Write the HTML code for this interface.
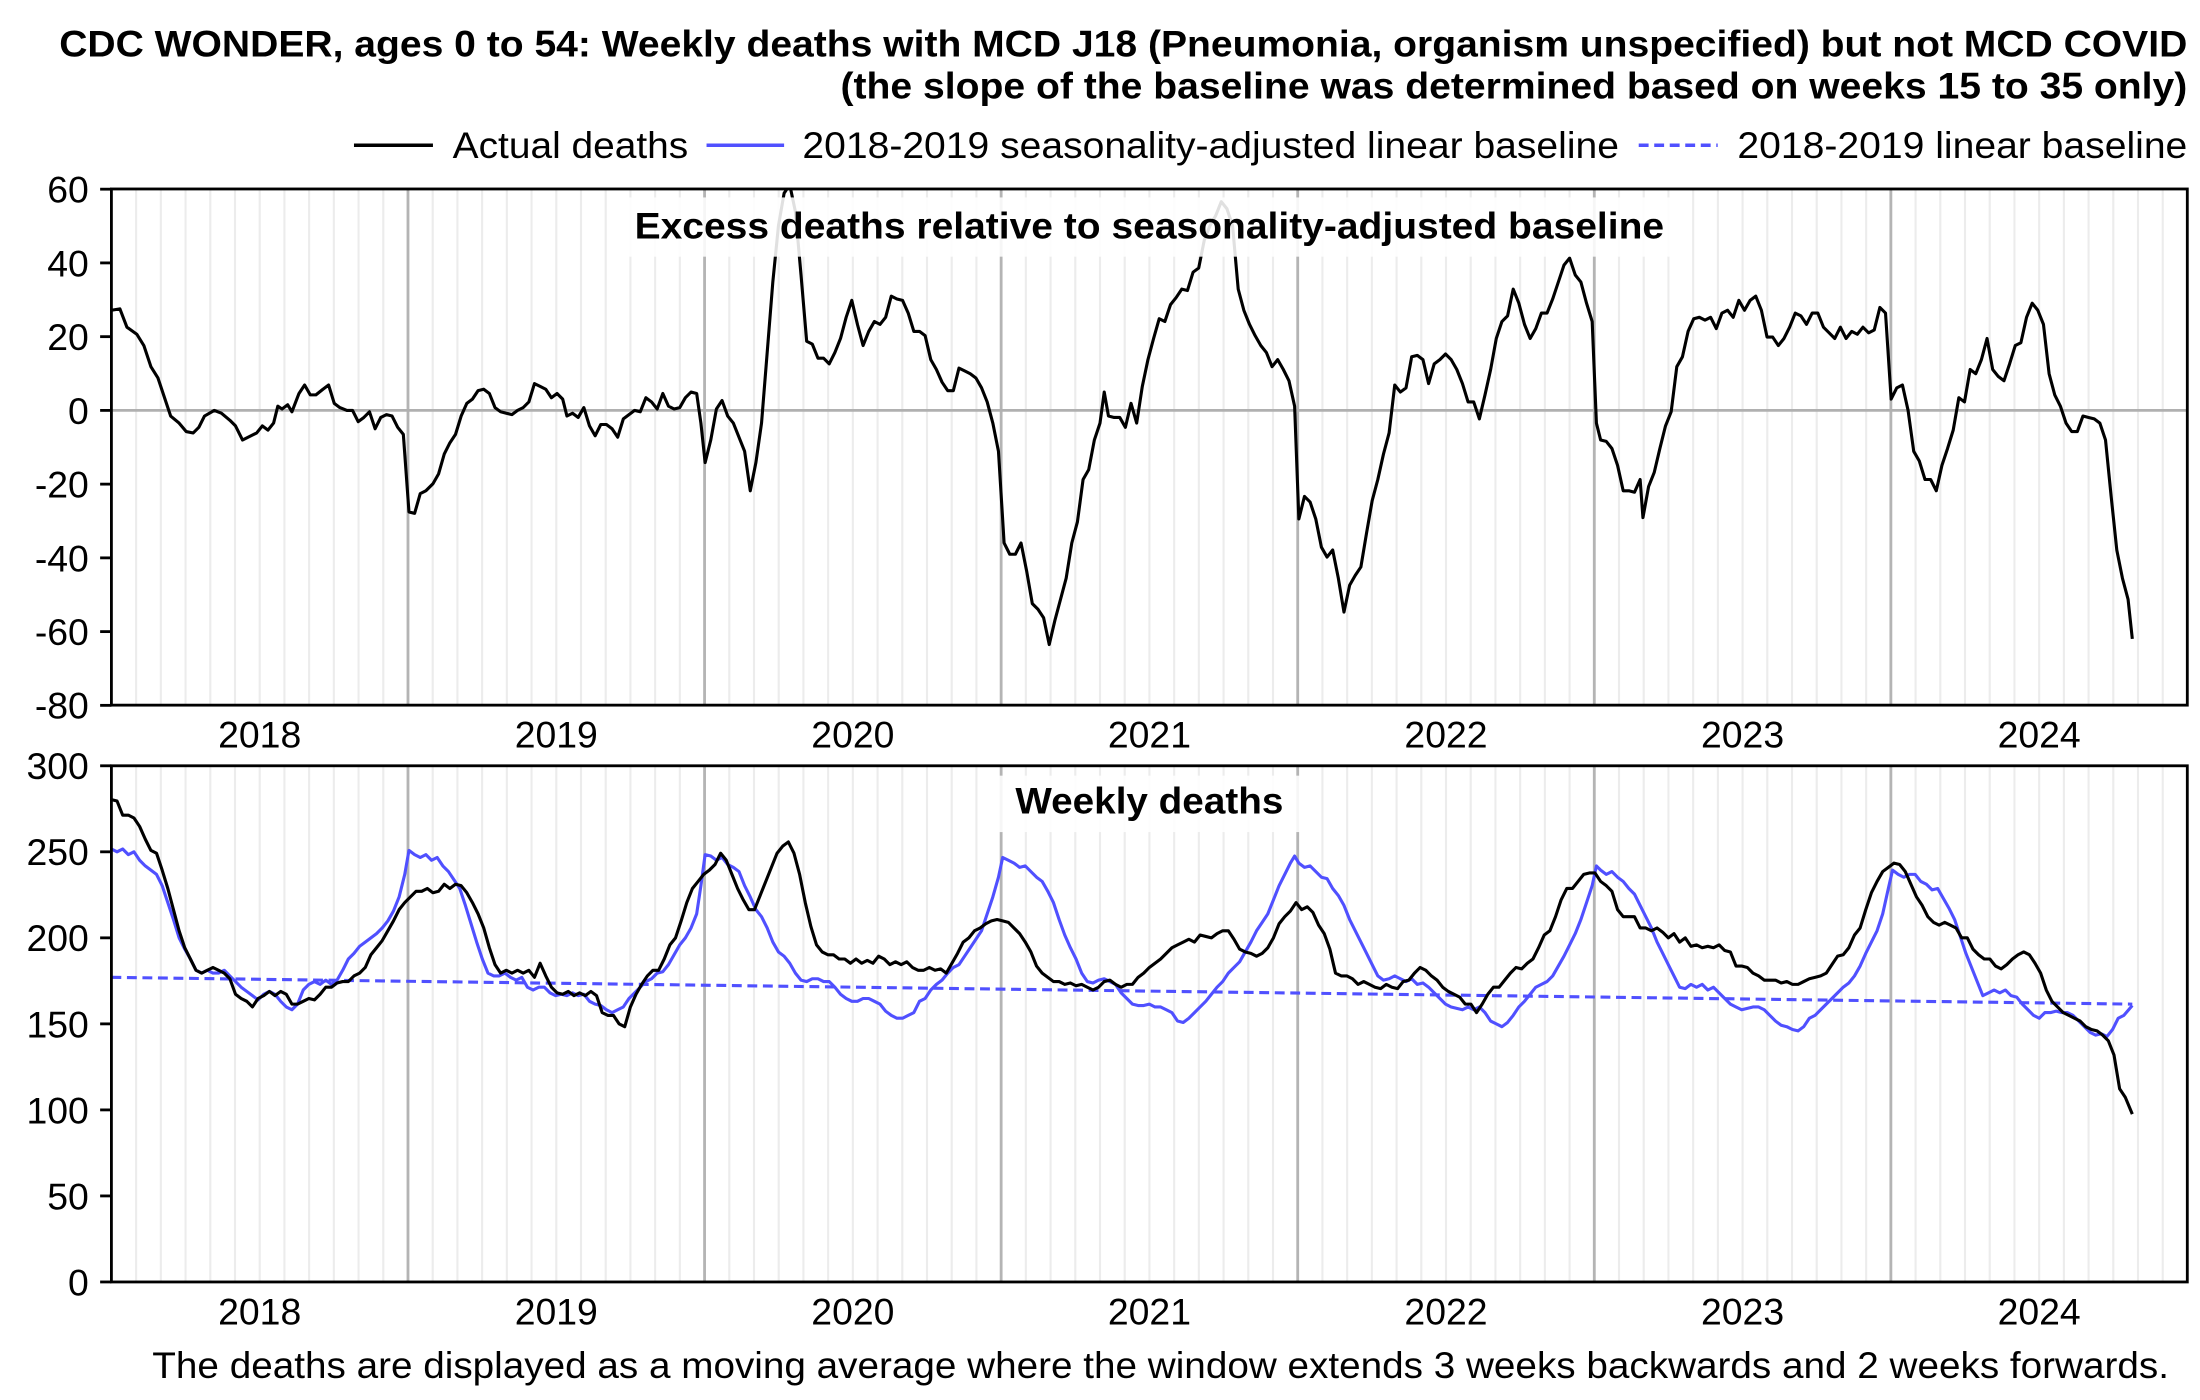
<!DOCTYPE html>
<html><head><meta charset="utf-8"><style>
html,body{margin:0;padding:0;background:#fff}
svg{display:block}
text{font-family:"Liberation Sans",Arial,sans-serif;fill:#000}
</style></head><body>
<svg width="2200" height="1400" viewBox="0 0 1560 992.7" preserveAspectRatio="none" xmlns="http://www.w3.org/2000/svg">
<defs>
<clipPath id="c1"><rect x="79" y="134" width="1472" height="366"/></clipPath>
<clipPath id="c2"><rect x="79" y="543" width="1472" height="366"/></clipPath>
</defs>
<rect width="1560" height="993" fill="#fff"/>
<text x="1551" y="40" font-size="26.5" font-weight="bold" text-anchor="end" textLength="1509" lengthAdjust="spacingAndGlyphs">CDC WONDER, ages 0 to 54: Weekly deaths with MCD J18 (Pneumonia, organism unspecified) but not MCD COVID</text>
<text x="1551" y="70" font-size="26.5" font-weight="bold" text-anchor="end" textLength="955" lengthAdjust="spacingAndGlyphs">(the slope of the baseline was determined based on weeks 15 to 35 only)</text>
<g font-size="26.5">
<line x1="251" y1="103" x2="307" y2="103" stroke="#000" stroke-width="2.5"/>
<text x="321" y="112" textLength="167" lengthAdjust="spacingAndGlyphs">Actual deaths</text>
<line x1="501" y1="103" x2="556" y2="103" stroke="#5050ff" stroke-width="2.5"/>
<text x="569" y="112" textLength="579" lengthAdjust="spacingAndGlyphs">2018-2019 seasonality-adjusted linear baseline</text>
<line x1="1162" y1="103" x2="1218" y2="103" stroke="#5050ff" stroke-width="2.5" stroke-dasharray="7,4"/>
<text x="1232" y="112" textLength="319" lengthAdjust="spacingAndGlyphs">2018-2019 linear baseline</text>
</g>
<g id="grid1"></g>
<g id="grid2"></g>
<line x1="79" y1="291" x2="1551" y2="291" stroke="#b0b0b0" stroke-width="2"/>
<g clip-path="url(#c1)">
<polyline fill="none" stroke="#000" stroke-width="2.2" stroke-linejoin="round" points="79,220 85,219 90,232 97,237 102,245 107,260 112,268 117,283 121,295 127,300 132,306 137,307 141,303 145,295 152,291 157,293 163,298 167,302 172,312 178,309 182,307 186,302 190,305 194,300 197,288 200,290 204,287 207,292 212,279 216,273 220,280 224,280 229,276 233,273 237,286 241,289 246,291 250,291 254,299 258,296 262,292 266,304 270,296 274,294 278,295 282,303 286,308 290,363 294,364 298,350 302,348 307,343 311,336 315,322 319,314 323,308 327,295 331,286 335,283 339,277 343,276 347,279 351,289 355,292 359,293 363,294 367,291 371,289 375,285 379,272 383,274 387,276 391,282 395,279 399,283 402,295 406,293 410,296 414,289 418,302 422,309 426,301 430,301 434,304 438,310 442,297 446,294 450,291 454,292 458,282 462,285 466,290 470,279 474,288 478,290 482,289 486,282 490,278 494,279 497,300 500,328 504,312 508,290 512,284 516,295 520,300 524,310 528,320 532,348 536,328 540,300 544,250 548,200 552,160 556,137 560,131 564,150 568,195 572,242 576,244 580,254 584,254 588,258 592,250 596,240 600,225 604,213 608,230 612,245 616,235 620,228 624,230 628,225 632,210 636,212 640,213 644,222 648,235 652,235 656,238 660,255 664,262 668,271 672,277 676,277 680,261 684,263 688,265 692,268 696,275 700,285 704,300 708,320 712,385 716,393 720,393 724,385 728,405 732,428 736,432 740,438 744,457 748,440 752,425 756,410 760,385 764,370 768,340 772,333 776,312 780,300 783,278 786,295 790,296 794,296 798,303 802,286 806,300 810,274 814,255 818,240 822,226 826,228 830,216 834,211 838,205 842,206 846,193 850,190 854,170 858,160 862,153 866,143 870,148 874,160 878,205 882,220 886,230 890,238 894,245 898,250 902,260 906,255 910,262 914,270 918,288 921,368 925,352 929,356 933,368 937,388 941,395 945,390 949,410 953,434 957,415 961,408 965,402 969,378 973,355 977,340 981,322 985,307 989,273 993,278 997,275 1001,253 1005,252 1009,255 1013,272 1017,258 1021,255 1025,251 1029,255 1033,262 1037,272 1041,285 1045,285 1049,297 1053,280 1057,262 1061,240 1065,228 1069,224 1073,205 1077,215 1081,230 1085,240 1089,233 1093,222 1097,222 1101,212 1105,200 1109,188 1113,183 1117,195 1121,200 1125,215 1129,228 1132,300 1135,312 1139,313 1143,318 1147,330 1151,348 1155,348 1159,349 1163,340 1165,367 1169,345 1173,335 1177,318 1181,302 1185,292 1189,260 1193,253 1197,235 1201,226 1205,225 1209,227 1213,225 1217,233 1221,222 1225,220 1229,225 1233,213 1237,220 1241,213 1245,210 1249,220 1253,239 1257,239 1261,245 1265,240 1269,232 1273,222 1277,224 1281,230 1285,222 1289,222 1293,232 1297,236 1301,240 1305,232 1309,240 1313,235 1317,237 1321,232 1325,236 1329,234 1333,218 1337,222 1341,283 1345,275 1349,273 1353,291 1357,320 1361,327 1365,340 1369,340 1373,348 1377,330 1381,318 1385,305 1389,282 1393,285 1397,262 1401,265 1405,255 1409,240 1413,262 1417,267 1421,270 1425,258 1429,245 1433,243 1437,225 1441,215 1445,220 1449,230 1453,265 1457,280 1461,288 1465,300 1469,306 1473,306 1477,295 1481,296 1485,297 1489,300 1493,312 1497,352 1501,390 1505,410 1509,425 1512,453"/>
</g>
<rect x="440" y="140" width="750" height="42" fill="#fff" fill-opacity="0.88"/>
<text x="815" y="169" font-size="26" font-weight="bold" text-anchor="middle" textLength="730" lengthAdjust="spacingAndGlyphs">Excess deaths relative to seasonality-adjusted baseline</text>
<g clip-path="url(#c2)">
<polyline fill="none" stroke="#5050ff" stroke-width="2.2" stroke-dasharray="7,4" points="79,693 1512,712"/>
<polyline fill="none" stroke="#5050ff" stroke-width="2.2" stroke-linejoin="round" points="79,602 83,604 87,602 91,606 95,604 99,610 103,614 107,617 111,620 115,628 119,640 123,652 127,665 131,673 135,680 139,688 143,690 147,688 151,690 155,690 159,688 163,692 167,696 171,700 175,703 179,706 183,709 187,705 191,703 195,705 199,710 203,714 207,716 211,712 215,702 219,698 223,696 227,698 231,695 235,698 239,695 243,688 247,680 251,676 255,671 259,668 263,665 267,662 271,658 275,653 279,646 283,636 287,620 290,603 294,606 298,608 302,606 306,610 310,608 314,614 318,618 322,624 326,630 330,642 334,655 338,668 342,680 346,690 350,692 354,692 358,690 362,693 366,695 370,693 374,700 378,702 382,700 386,700 390,704 394,706 398,705 402,706 406,704 410,706 414,705 418,710 422,712 426,713 430,716 434,718 438,716 442,714 446,708 450,704 454,700 458,696 462,694 466,690 470,689 474,684 478,677 482,670 486,665 490,658 494,648 497,628 500,606 504,607 508,610 512,608 516,613 520,615 524,618 528,628 532,636 536,645 540,650 544,658 548,668 552,675 556,678 560,683 564,690 568,695 572,696 576,694 580,694 584,696 588,696 592,700 596,705 600,708 604,710 608,710 612,708 616,708 620,710 624,712 628,717 632,720 636,722 640,722 644,720 648,718 652,710 656,708 660,702 664,698 668,695 672,690 676,686 680,684 684,678 688,672 692,666 696,660 700,648 704,636 708,622 711,608 715,610 719,612 723,615 727,614 731,618 735,622 739,625 743,632 747,640 751,652 755,663 759,672 763,680 767,690 771,696 775,697 779,695 783,694 787,696 791,698 795,704 799,708 803,712 807,713 811,713 815,712 819,714 823,714 827,716 831,718 835,724 839,725 843,722 847,718 851,714 855,710 859,705 863,700 867,696 871,690 875,686 879,682 883,675 887,668 891,660 895,654 899,648 903,638 907,628 911,620 915,612 918,607 921,612 925,615 929,614 933,618 937,622 941,623 945,630 949,635 953,642 957,652 961,660 965,668 969,676 973,684 977,692 981,695 985,694 989,692 993,694 997,696 1001,694 1005,698 1009,697 1013,700 1017,704 1021,708 1025,712 1029,714 1033,715 1037,716 1041,714 1045,716 1049,714 1053,718 1057,724 1061,726 1065,728 1069,725 1073,720 1077,714 1081,710 1085,705 1089,700 1093,698 1097,696 1101,692 1105,685 1109,678 1113,670 1117,662 1121,652 1125,640 1129,628 1132,614 1135,617 1139,620 1143,618 1147,622 1151,625 1155,630 1159,634 1163,642 1167,650 1171,658 1175,668 1179,676 1183,684 1187,692 1191,700 1195,701 1199,698 1203,700 1207,698 1211,702 1215,700 1219,704 1223,708 1227,712 1231,714 1235,716 1239,715 1243,714 1247,714 1251,716 1255,720 1259,724 1263,727 1267,728 1271,730 1275,731 1279,728 1283,722 1287,720 1291,716 1295,712 1299,708 1303,704 1307,700 1311,697 1315,692 1319,685 1323,676 1327,668 1331,660 1335,648 1339,630 1342,617 1346,620 1350,622 1354,620 1358,620 1362,625 1366,627 1370,631 1374,630 1378,637 1382,644 1386,652 1390,664 1394,676 1398,686 1402,696 1406,706 1410,704 1414,702 1418,704 1422,702 1426,706 1430,707 1434,712 1438,716 1442,720 1446,722 1450,718 1454,718 1458,717 1462,718 1466,718 1470,720 1474,724 1478,728 1482,732 1486,734 1490,733 1494,735 1498,730 1502,722 1506,720 1512,713"/>
<polyline fill="none" stroke="#000" stroke-width="2.2" stroke-linejoin="round" points="79,567 83,568 87,578 91,578 95,580 99,586 103,595 107,603 111,605 115,617 119,630 123,645 127,660 131,672 135,680 139,688 143,690 147,688 151,686 155,688 159,690 163,694 167,705 171,708 175,710 179,714 183,708 187,706 191,703 195,706 199,703 203,705 207,712 211,712 215,710 219,708 223,709 227,705 231,700 235,700 239,697 243,696 247,696 251,692 255,690 259,686 263,677 267,672 271,667 275,660 279,653 283,645 287,640 291,636 295,632 299,632 303,630 307,633 311,632 315,627 319,630 323,627 327,628 331,633 335,640 339,648 343,658 347,672 351,684 355,690 359,688 363,690 367,688 371,690 375,688 379,693 383,683 387,692 391,700 395,704 399,705 403,703 407,706 411,704 415,706 419,703 423,706 427,718 431,720 435,720 439,726 443,728 447,714 451,705 455,698 459,692 463,688 467,688 471,680 475,670 479,665 483,653 487,640 491,630 495,625 499,620 503,617 507,613 511,605 515,610 519,620 523,630 527,638 531,645 535,645 539,635 543,625 547,615 551,605 555,600 559,597 563,605 567,620 571,640 575,657 579,670 583,675 587,677 591,677 595,680 599,680 603,683 607,680 611,683 615,681 619,683 623,678 627,680 631,684 635,682 639,684 643,682 647,686 651,688 655,688 659,686 663,688 667,687 671,690 675,683 679,676 683,668 687,665 691,660 695,658 699,655 703,653 707,652 711,653 715,654 719,658 723,662 727,668 731,675 735,685 739,690 743,693 747,696 751,696 755,698 759,697 763,699 767,698 771,700 775,702 779,700 783,696 787,695 791,698 795,700 799,698 803,698 807,693 811,690 815,686 819,683 823,680 827,676 831,672 835,670 839,668 843,666 847,668 851,663 855,664 859,665 863,662 867,660 871,660 875,666 879,673 883,675 887,676 891,678 895,676 899,672 903,665 907,655 911,650 915,646 919,640 923,645 927,643 931,647 935,656 939,662 943,673 947,690 951,692 955,692 959,694 963,698 967,696 971,698 975,700 979,701 983,698 987,700 991,701 995,696 999,695 1003,690 1007,686 1011,688 1015,692 1019,695 1023,700 1027,703 1031,705 1035,707 1039,712 1043,712 1047,718 1051,712 1055,705 1059,700 1063,700 1067,695 1071,690 1075,686 1079,687 1083,683 1087,680 1091,672 1095,663 1099,660 1103,650 1107,638 1111,630 1115,630 1119,625 1123,620 1127,619 1131,619 1135,625 1139,628 1143,632 1147,645 1151,650 1155,650 1159,650 1163,658 1167,658 1171,660 1175,658 1179,661 1183,665 1187,662 1191,668 1195,665 1199,671 1203,670 1207,672 1211,671 1215,672 1219,670 1223,674 1227,675 1231,685 1235,685 1239,686 1243,690 1247,692 1251,695 1255,695 1259,695 1263,697 1267,696 1271,698 1275,698 1279,696 1283,694 1287,693 1291,692 1295,690 1299,684 1303,678 1307,677 1311,672 1315,663 1319,658 1323,645 1327,633 1331,625 1335,618 1339,615 1343,612 1347,613 1351,618 1355,627 1359,636 1363,642 1367,650 1371,654 1375,656 1379,654 1383,656 1387,658 1391,665 1395,665 1399,673 1403,677 1407,680 1411,680 1415,685 1419,687 1423,684 1427,680 1431,677 1435,675 1439,677 1443,683 1447,690 1451,702 1455,710 1459,714 1463,718 1467,720 1471,722 1475,724 1479,728 1483,730 1487,731 1491,734 1495,738 1499,748 1503,772 1507,778 1512,790"/>
</g>
<rect x="705" y="550" width="220" height="40" fill="#fff" fill-opacity="0.88"/>
<text x="815" y="577" font-size="26" font-weight="bold" text-anchor="middle" textLength="190" lengthAdjust="spacingAndGlyphs">Weekly deaths</text>
<rect x="79" y="134" width="1472" height="366" fill="none" stroke="#000" stroke-width="2"/>
<rect x="79" y="543" width="1472" height="366" fill="none" stroke="#000" stroke-width="2"/>
<g id="ticks" font-size="26.5"></g>
<text x="1538" y="977" font-size="26.5" text-anchor="end" textLength="1430" lengthAdjust="spacingAndGlyphs">The deaths are displayed as a moving average where the window extends 3 weeks backwards and 2 weeks forwards.</text>
<script>
(function(){
var ns="http://www.w3.org/2000/svg";
function el(p,t,a,txt){var e=document.createElementNS(ns,t);for(var k in a)e.setAttribute(k,a[k]);if(txt!==undefined)e.textContent=txt;p.appendChild(e);return e;}
var g1=document.getElementById("grid1"),g2=document.getElementById("grid2"),tk=document.getElementById("ticks");
var x0=79,yr=210.3;
for(var i=1;i<84;i++){var x=x0+i*yr/12;var major=(i%12===0);
 [[g1,134,500],[g2,543,909]].forEach(function(p){el(p[0],"line",{x1:x,x2:x,y1:p[1],y2:p[2],stroke:major?"#b4b4b4":"#ececec","stroke-width":major?2:1.5});});}
for(var y=0;y<7;y++){var cx=x0+(y+0.5)*yr;
 el(tk,"text",{x:cx,y:530,"text-anchor":"middle"},String(2018+y));
 el(tk,"text",{x:cx,y:939,"text-anchor":"middle"},String(2018+y));}
for(var v=60;v>=-80;v-=20){var yy=291-v*2.6143;
 el(tk,"line",{x1:71,x2:79,y1:yy,y2:yy,stroke:"#000","stroke-width":2});
 el(tk,"text",{x:63,y:yy+9.5,"text-anchor":"end"},String(v));}
for(var v=0;v<=300;v+=50){var yy=909-v*1.22;
 el(tk,"line",{x1:71,x2:79,y1:yy,y2:yy,stroke:"#000","stroke-width":2});
 el(tk,"text",{x:63,y:yy+9.5,"text-anchor":"end"},String(v));}
})();
</script>
</svg>
</body></html>
